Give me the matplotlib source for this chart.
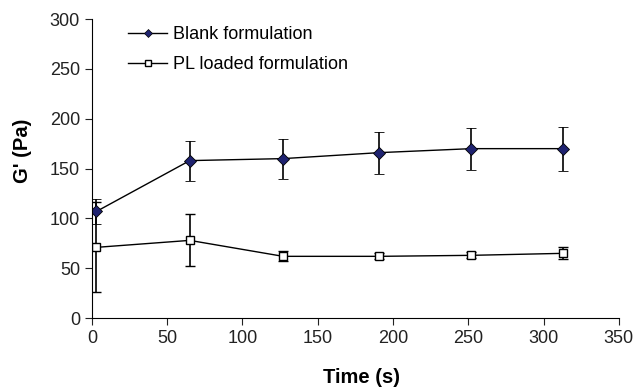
import matplotlib.pyplot as plt
from matplotlib.lines import Line2D

plt.rcParams['font.family'] = ['Liberation Sans', 'DejaVu Sans']

# time points (s)
time = [3, 65, 127, 191, 252, 313]
# G' values (Pa)
blank = [107, 158, 160, 166, 170, 170]
blank_err = [13, 20, 20, 21, 21, 22]
pl_loaded = [71, 78, 62, 62, 63, 65]
pl_err = [45, 26, 5, 3, 3, 6]

navy = '#1f2370'

fig = plt.figure(figsize=(6.38, 3.88), dpi=100)
ax = fig.add_axes([0.144, 0.180, 0.826, 0.771])

ax.errorbar(time, blank, yerr=blank_err, color='black', lw=1, capsize=3.6,
            elinewidth=1.2, capthick=1.2,
            marker='D', ms=6, mfc=navy, mec='black', mew=0.6)
ax.errorbar(time, pl_loaded, yerr=pl_err, color='black', lw=1, capsize=3.6,
            elinewidth=1.2, capthick=1.2,
            marker='s', ms=5.5, mfc='white', mec='black', mew=1)

ax.set_xlim(0, 350)
ax.set_ylim(0, 300)
ax.set_xticks(range(0, 351, 50))
ax.set_yticks(range(0, 301, 50))
ax.spines['top'].set_visible(False)
ax.spines['right'].set_visible(False)
ax.tick_params(labelsize=13, colors='#222222', length=5)
ax.set_xlabel('Time (s)', fontsize=14.5, fontweight='bold')
ax.set_ylabel("G' (Pa)", fontsize=14.5, fontweight='bold')
ax.xaxis.set_label_coords(0.512, -0.168)
ax.yaxis.set_label_coords(-0.113, 0.558)

handles = [
    Line2D([], [], color='black', lw=1, marker='D', ms=4.5, mfc=navy, mec='black', mew=0.5),
    Line2D([], [], color='black', lw=1, marker='s', ms=4, mfc='white', mec='black', mew=1),
]
ax.legend(handles, ['Blank formulation', 'PL loaded formulation'],
          loc='upper left', bbox_to_anchor=(0.068, 0.977), frameon=False,
          borderaxespad=0, borderpad=0, fontsize=13, handlelength=2.2,
          handletextpad=0.33, labelspacing=0.72)

fig.savefig('out.png', dpi=100)
